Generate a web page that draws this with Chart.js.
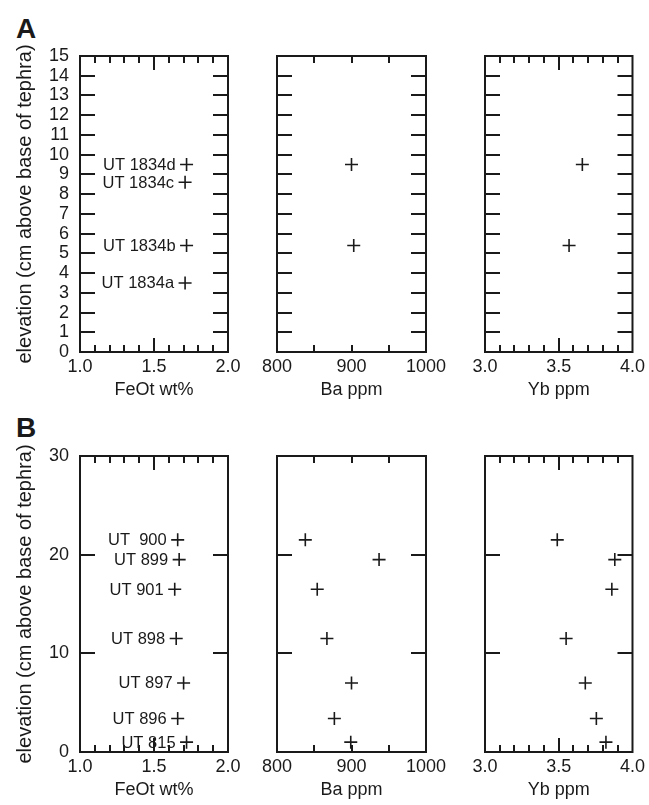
<!DOCTYPE html>
<html>
<head>
<meta charset="utf-8">
<script src="https://cdn.jsdelivr.net/npm/chart.js@4.4.1/dist/chart.umd.min.js"></script>
<style>
	body { margin: 0; background: #fff; }
	#wrap { position: relative; width: 649px; height: 805px; overflow: hidden; }
	canvas { position: absolute; left: 0; }
	.tag { position: absolute; left: 16px; font: bold 28px "Liberation Sans", Arial, sans-serif; line-height: 1; color: #1a1a1a; }
</style>
</head>
<body>
<div id="wrap">
	<div class="tag" style="top:15px">A</div>
	<div class="tag" style="top:414px">B</div>
	<canvas id="a_fe" width="649" height="401" style="top:0"></canvas>
	<canvas id="a_ba" width="649" height="401" style="top:0"></canvas>
	<canvas id="a_yb" width="649" height="401" style="top:0"></canvas>
	<canvas id="b_fe" width="649" height="401" style="top:400px"></canvas>
	<canvas id="b_ba" width="649" height="401" style="top:400px"></canvas>
	<canvas id="b_yb" width="649" height="401" style="top:400px"></canvas>
</div>
<script>
// panel A: UT 1834 samples
let samplesA = ['UT 1834d', 'UT 1834c', 'UT 1834b', 'UT 1834a'];
let elevA = [9.5, 8.6, 5.4, 3.5];
let feotA = [1.72, 1.71, 1.72, 1.71];
let baA = [900, null, 903, null];
let ybA = [3.66, null, 3.57, null];

// panel B: UT 8xx/9xx samples
let samplesB = ['UT  900', 'UT 899', 'UT 901', 'UT 898', 'UT 897', 'UT 896', 'UT 815'];
let elevB = [21.5, 19.5, 16.5, 11.5, 7, 3.4, 1.0];
let feotB = [1.66, 1.67, 1.64, 1.65, 1.70, 1.66, 1.72];
let baB = [838, 937, 854, 867, 900, 877, 899];
let ybB = [3.49, 3.88, 3.86, 3.55, 3.68, 3.755, 3.82];

let yTitle = 'elevation (cm above base of tephra)';
let ink = '#1a1a1a';

Chart.defaults.font.family = '"Liberation Sans", Arial, sans-serif';
Chart.defaults.color = ink;

// box + inward tick marks on all four sides
let frame = {
	id: 'frame',
	beforeDatasetsDraw: function (chart, args, o) {
		let ctx = chart.ctx, a = chart.chartArea;
		let xs = chart.scales.x, ys = chart.scales.y;
		ctx.save();
		ctx.strokeStyle = ink;
		ctx.lineWidth = 2;
		ctx.strokeRect(a.left, a.top, a.right - a.left, a.bottom - a.top);
		let isMajor = function (v, min, step) {
			if (!step) return false;
			let k = (v - min) / step;
			return Math.abs(k - Math.round(k)) < 1e-6;
		};
		let n = Math.round((xs.max - xs.min) / o.xMinor);
		for (let i = 1; i < n; i++) {
			let v = xs.min + i * o.xMinor;
			let px = Math.round(xs.getPixelForValue(v));
			let len = isMajor(v, xs.min, o.xMajor) ? o.xMajorLen : o.xMinorLen;
			ctx.beginPath();
			ctx.moveTo(px, a.top); ctx.lineTo(px, a.top + len);
			ctx.moveTo(px, a.bottom); ctx.lineTo(px, a.bottom - len);
			ctx.stroke();
		}
		let m = Math.round((ys.max - ys.min) / o.yStep);
		for (let j = 1; j < m; j++) {
			let py = Math.round(ys.getPixelForValue(ys.min + j * o.yStep));
			ctx.beginPath();
			ctx.moveTo(a.left, py); ctx.lineTo(a.left + o.yLen, py);
			ctx.moveTo(a.right, py); ctx.lineTo(a.right - o.yLen, py);
			ctx.stroke();
		}
		ctx.restore();
	}
};

// sample names to the left of each point
let pointNames = {
	id: 'pointNames',
	afterDatasetsDraw: function (chart, args, o) {
		if (!o.names) return;
		let ctx = chart.ctx;
		let pts = chart.getDatasetMeta(0).data;
		ctx.save();
		ctx.font = '16.5px "Liberation Sans", Arial, sans-serif';
		ctx.fillStyle = ink;
		ctx.textAlign = 'right';
		ctx.textBaseline = 'middle';
		pts.forEach(function (p, i) {
			ctx.fillText(o.names[i], p.x - 11, p.y + 1);
		});
		ctx.restore();
	}
};

let makePanel = function (id, p) {
	let points = [];
	p.xs.forEach(function (x, i) {
		if (x !== null) points.push({ x: x, y: p.ys[i] });
	});
	return new Chart(id, {
		type: 'scatter',
		data: {
			datasets: [{
				data: points,
				pointStyle: 'cross',
				pointRadius: 6.5,
				pointHoverRadius: 6.5,
				borderColor: ink,
				borderWidth: 1.6
			}]
		},
		plugins: [frame, pointNames],
		options: {
			responsive: false,
			animation: false,
			events: [],
			layout: { padding: { left: p.left, right: p.right, top: 56, bottom: 0 } },
			plugins: {
				legend: { display: false },
				tooltip: { enabled: false },
				frame: p.frame,
				pointNames: { names: p.names || null }
			},
			scales: {
				x: {
					type: 'linear',
					min: p.xMin, max: p.xMax,
					grid: { display: false, drawTicks: false },
					border: { display: false },
					ticks: {
						stepSize: p.xStep,
						autoSkip: false,
						maxRotation: 0,
						padding: 4,
						font: { size: 18 },
						callback: p.fmt
					},
					title: { display: true, text: p.xTitle, font: { size: 18 }, padding: { top: 0, bottom: 0 } },
					afterFit: function (s) { s.height = 49; }
				},
				y: {
					type: 'linear',
					min: 0, max: p.yMax,
					display: p.showY,
					grid: { display: false, drawTicks: false },
					border: { display: false },
					ticks: {
						stepSize: p.yLabelStep,
						autoSkip: false,
						padding: 11,
						font: { size: 18 }
					},
					title: { display: true, text: yTitle, font: { size: 20 }, padding: { top: 13, bottom: 0 } },
					afterFit: function (s) { s.width = p.showY ? 80 : 0; }
				}
			}
		}
	});
};

let oneDec = function (v) { return v.toFixed(1); };
let plain = function (v) { return String(v); };
let feFrame = { xMinor: 0.1, xMajor: 0.5, xMinorLen: 7, xMajorLen: 14 };
let baFrame = { xMinor: 50, xMajor: null, xMinorLen: 7, xMajorLen: 7 };
let ybFrame = { xMinor: 0.1, xMajor: 0.5, xMinorLen: 7, xMajorLen: 14 };
let withY = function (f, step, len) { return Object.assign({}, f, { yStep: step, yLen: len }); };

// panel A
makePanel('a_fe', {
	xs: feotA, ys: elevA, names: samplesA, xMin: 1, xMax: 2, xStep: 0.5, fmt: oneDec, xTitle: 'FeOt wt%',
	yMax: 15, yLabelStep: 1, showY: true,
	left: 0, right: 421, frame: withY(feFrame, 1, 15)
});
makePanel('a_ba', {
	xs: baA, ys: elevA, xMin: 800, xMax: 1000, xStep: 100, fmt: plain, xTitle: 'Ba ppm',
	yMax: 15, yLabelStep: 1, showY: false,
	left: 277, right: 223, frame: withY(baFrame, 1, 15)
});
makePanel('a_yb', {
	xs: ybA, ys: elevA, xMin: 3, xMax: 4, xStep: 0.5, fmt: oneDec, xTitle: 'Yb ppm',
	yMax: 15, yLabelStep: 1, showY: false,
	left: 485, right: 14, frame: withY(ybFrame, 1, 15)
});

// panel B
makePanel('b_fe', {
	xs: feotB, ys: elevB, names: samplesB, xMin: 1, xMax: 2, xStep: 0.5, fmt: oneDec, xTitle: 'FeOt wt%',
	yMax: 30, yLabelStep: 10, showY: true,
	left: 0, right: 421, frame: withY(feFrame, 10, 15)
});
makePanel('b_ba', {
	xs: baB, ys: elevB, xMin: 800, xMax: 1000, xStep: 100, fmt: plain, xTitle: 'Ba ppm',
	yMax: 30, yLabelStep: 10, showY: false,
	left: 277, right: 223, frame: withY(baFrame, 10, 15)
});
makePanel('b_yb', {
	xs: ybB, ys: elevB, xMin: 3, xMax: 4, xStep: 0.5, fmt: oneDec, xTitle: 'Yb ppm',
	yMax: 30, yLabelStep: 10, showY: false,
	left: 485, right: 14, frame: withY(ybFrame, 10, 15)
});
</script>
</body>
</html>
